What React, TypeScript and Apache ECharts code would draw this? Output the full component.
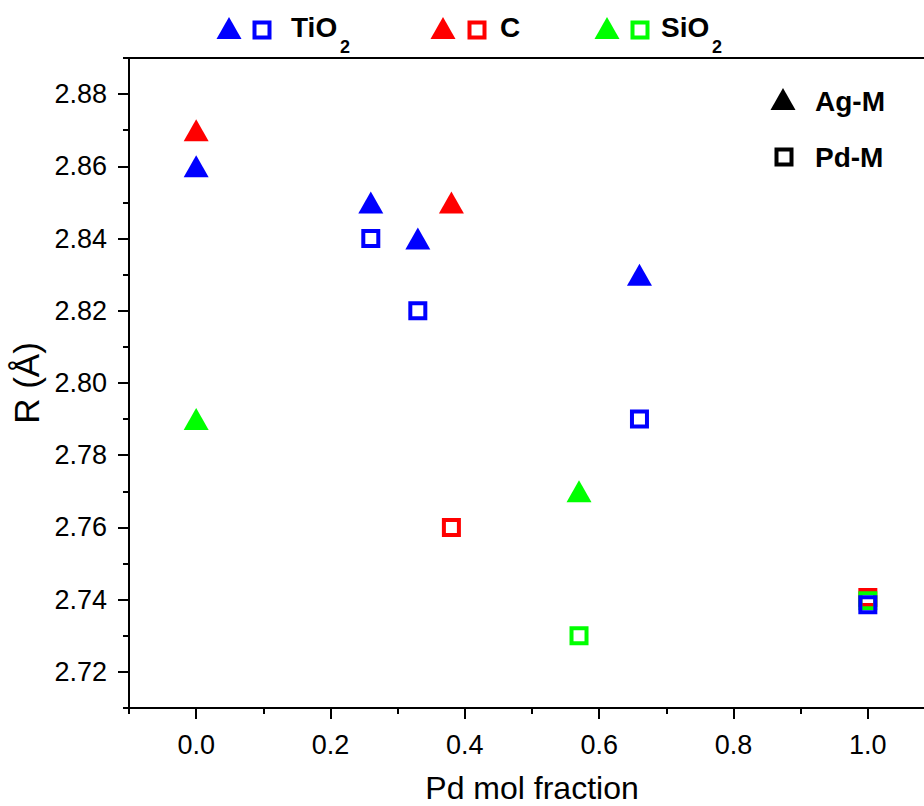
import React, { useEffect, useRef } from "react";
import * as echarts from "echarts";

const xMajorTicks = [0, 0.2, 0.4, 0.6, 0.8, 1.0];
const xMinorTicks = [-0.1, 0.1, 0.3, 0.5, 0.7, 0.9, 1.1];
const yMajorTicks = [2.72, 2.74, 2.76, 2.78, 2.8, 2.82, 2.84, 2.86, 2.88];
const yMinorTicks = [2.71, 2.73, 2.75, 2.77, 2.79, 2.81, 2.83, 2.85, 2.87, 2.89];

// [Pd mol fraction, R]
const tio2AgM = [[0, 2.86], [0.26, 2.85], [0.33, 2.84], [0.66, 2.83]];
const tio2PdM = [[0.26, 2.84], [0.33, 2.82], [0.66, 2.79], [1.0, 2.7386]];
const cAgM = [[0, 2.87], [0.38, 2.85]];
const cPdM = [[0.38, 2.76], [1.0, 2.7406]];
const sio2AgM = [[0, 2.79], [0.57, 2.77]];
const sio2PdM = [[0.57, 2.73], [1.0, 2.7397]];

const BLUE = "#0000ff";
const RED = "#ff0000";
const GREEN = "#00ff00";
const FONT = "'Liberation Sans', Arial, sans-serif";

const TRI = [25, 22];
const SQ = 15;

function agSeries(name: string, data: number[][], color: string) {
  return {
    name,
    type: "scatter",
    data,
    symbol: "triangle",
    symbolSize: TRI,
    itemStyle: { color, opacity: 1 },
    z: 3,
  };
}
function pdSeries(name: string, data: number[][], color: string) {
  return {
    name,
    type: "scatter",
    data,
    symbol: "rect",
    symbolSize: SQ,
    itemStyle: { color: "rgba(0,0,0,0)", borderColor: color, borderWidth: 4, opacity: 1 },
    z: 4,
  };
}

function tri(cx: number, cy: number, color: string) {
  return {
    type: "polygon",
    shape: { points: [[cx - 12.5, cy + 11], [cx + 12.5, cy + 11], [cx, cy - 11]] },
    style: { fill: color },
  };
}
function sq(cx: number, cy: number, color: string) {
  return {
    type: "rect",
    shape: { x: cx - 7.5, y: cy - 7.5, width: 15, height: 15 },
    style: { fill: "none", stroke: color, lineWidth: 4 },
  };
}
function txt(x: number, y: number, text: string, size: number) {
  return {
    type: "text",
    x,
    y,
    style: {
      text,
      fill: "#000",
      font: `bold ${size}px ${FONT}`,
      textVerticalAlign: "middle",
      verticalAlign: "middle",
    },
  };
}

export default function App() {
  const ref = useRef<HTMLDivElement>(null);
  useEffect(() => {
    if (!ref.current) return;
    const chart = echarts.init(ref.current, null, { renderer: "svg" });
    const axisLineStyle = { color: "#000", width: 2 };
    chart.setOption({
      animation: false,
      backgroundColor: "#fff",
      grid: {
        left: 129,
        top: 58,
        width: 806,
        height: 650,
        outerBoundsMode: "none",
        containLabel: false,
        show: true,
        borderColor: "#000",
        borderWidth: 2,
        backgroundColor: "transparent",
      },
      xAxis: [
        {
          type: "value",
          min: -0.1,
          max: 1.1,
          position: "bottom",
          name: "Pd mol fraction",
          nameLocation: "middle",
          nameGap: 64,
          nameTextStyle: { fontFamily: FONT, fontSize: 32, color: "#000", lineHeight: 32 },
          axisLine: { show: true, onZero: false, lineStyle: axisLineStyle },
          axisTick: { show: true, length: 11, customValues: xMajorTicks, lineStyle: axisLineStyle },
          axisLabel: {
            show: true,
            customValues: xMajorTicks,
            margin: 23,
            fontFamily: FONT,
            fontSize: 27,
            color: "#000",
            formatter: (v: number) => v.toFixed(1),
          },
          splitLine: { show: false },
        },
        {
          type: "value",
          min: -0.1,
          max: 1.1,
          position: "bottom",
          axisLine: { show: false, onZero: false },
          axisTick: { show: true, length: 6, customValues: xMinorTicks, lineStyle: axisLineStyle },
          axisLabel: { show: false },
          splitLine: { show: false },
        },
      ],
      yAxis: [
        {
          type: "value",
          min: 2.71,
          max: 2.89,
          position: "left",
          name: "R (Å)",
          nameLocation: "middle",
          nameGap: 79,
          nameTextStyle: { fontFamily: FONT, fontSize: 35, color: "#000" },
          axisLine: { show: true, onZero: false, lineStyle: axisLineStyle },
          axisTick: { show: true, length: 11, customValues: yMajorTicks, lineStyle: axisLineStyle },
          axisLabel: {
            show: true,
            customValues: yMajorTicks,
            margin: 22,
            fontFamily: FONT,
            fontSize: 27,
            color: "#000",
            formatter: (v: number) => v.toFixed(2),
          },
          splitLine: { show: false },
        },
        {
          type: "value",
          min: 2.71,
          max: 2.89,
          position: "left",
          axisLine: { show: false, onZero: false },
          axisTick: { show: true, length: 6, customValues: yMinorTicks, lineStyle: axisLineStyle },
          axisLabel: { show: false },
          splitLine: { show: false },
        },
      ],
      series: [
        agSeries("C Ag-M", cAgM, RED),
        agSeries("SiO2 Ag-M", sio2AgM, GREEN),
        agSeries("TiO2 Ag-M", tio2AgM, BLUE),
        pdSeries("C Pd-M", cPdM, RED),
        pdSeries("SiO2 Pd-M", sio2PdM, GREEN),
        pdSeries("TiO2 Pd-M", tio2PdM, BLUE),
      ],
      graphic: [
        tri(229, 28, BLUE),
        sq(262, 30, BLUE),
        txt(291, 27, "TiO", 28),
        txt(340, 47, "2", 18),
        tri(443, 28, RED),
        sq(477, 30, RED),
        txt(500, 27, "C", 28),
        tri(607, 28, GREEN),
        sq(640, 30, GREEN),
        txt(661, 27, "SiO", 28),
        txt(712, 47, "2", 18),
        tri(783, 99, "#000"),
        sq(784, 157, "#000"),
        txt(815, 101, "Ag-M", 28),
        txt(815, 157, "Pd-M", 28),
      ],
    });
    return () => chart.dispose();
  }, []);
  return (
    <div style={{ position: "absolute", left: 0, top: 0, width: 924, height: 806, overflow: "hidden" }}>
      <div ref={ref} style={{ width: 924, height: 806 }} />
    </div>
  );
}
